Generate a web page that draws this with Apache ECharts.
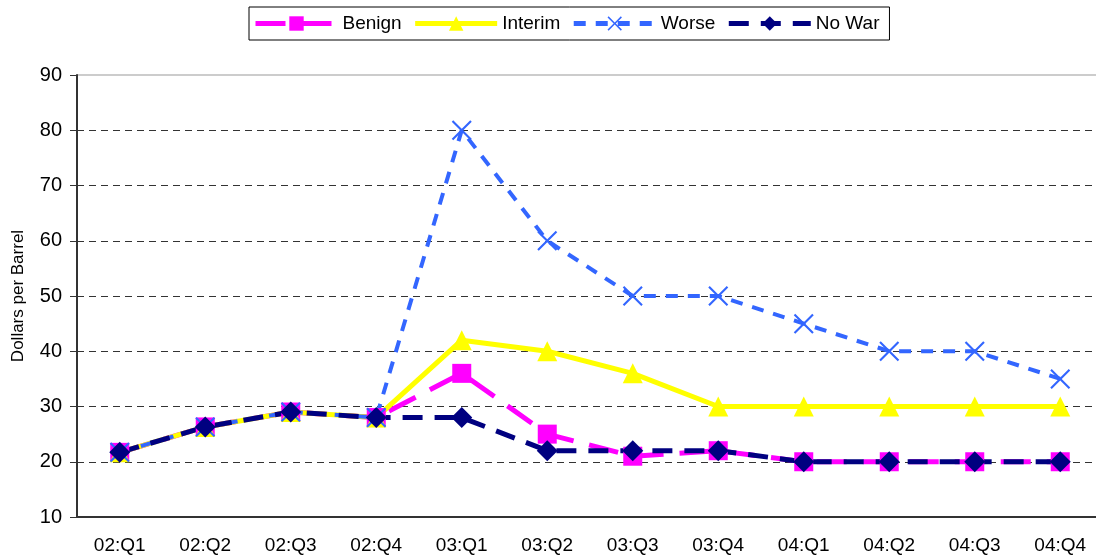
<!DOCTYPE html>
<html>
<head>
<meta charset="utf-8">
<script src="https://cdn.jsdelivr.net/npm/echarts@6/dist/echarts.min.js"></script>
<style>
  html, body { margin: 0; padding: 0; background: #fff; }
  #chartMain { width: 1096px; height: 557px; }
</style>
</head>
<body>
<div id="chartMain"></div>
<script>
var quarters = ['02:Q1', '02:Q2', '02:Q3', '02:Q4', '03:Q1', '03:Q2', '03:Q3', '03:Q4', '04:Q1', '04:Q2', '04:Q3', '04:Q4'];
var benign  = [21.7, 26.3, 29, 28, 36, 25, 21, 22, 20, 20, 20, 20];
var interim = [21.7, 26.3, 29, 28, 42, 40, 36, 30, 30, 30, 30, 30];
var worse   = [21.7, 26.3, 29, 28, 80, 60, 50, 50, 45, 40, 40, 35];
var noWar   = [21.7, 26.3, 29, 28, 28, 22, 22, 22, 20, 20, 20, 20];

var fontName = 'Arial, "Liberation Sans", sans-serif';
// X marker drawn as a filled outline
var crossPath = 'path://M0,1.5L1.5,0L10,8.5L18.5,0L20,1.5L11.5,10L20,18.5L18.5,20L10,11.5L1.5,20L0,18.5L8.5,10Z';

var chartMain = echarts.init(document.getElementById('chartMain'));
var option = {
    animation: false,
    backgroundColor: '#fff',
    textStyle: { fontFamily: fontName },
    legend: {
        left: 249,
        top: 7,
        padding: [7, 10, 7, 4],
        borderColor: '#000',
        borderWidth: 1,
        itemWidth: 82,
        itemHeight: 18,
        itemGap: 11,
        lineStyle: { width: 5 },
        textStyle: { fontSize: 19, color: '#000', fontFamily: fontName },
        data: ['Benign', 'Interim', 'Worse', 'No War']
    },
    grid: {
        left: 77,
        right: -7,
        top: 75,
        bottom: 40,
        outerBoundsMode: 'none',
        containLabel: false,
        show: true,
        borderColor: '#999',
        borderWidth: 1
    },
    xAxis: [{
        type: 'category',
        boundaryGap: true,
        data: quarters,
        axisLine: { lineStyle: { color: '#333', width: 2 } },
        axisTick: { length: 7, lineStyle: { color: '#333', width: 1 } },
        axisLabel: { fontSize: 19, color: '#000', margin: 19, fontFamily: fontName }
    }],
    yAxis: [{
        type: 'value',
        min: 10,
        max: 90,
        interval: 10,
        name: 'Dollars per Barrel',
        nameLocation: 'middle',
        nameGap: 50,
        nameMoveOverlap: false,
        nameTextStyle: { fontSize: 17, color: '#000', fontFamily: fontName },
        axisLine: { show: true, lineStyle: { color: '#333', width: 2 } },
        axisTick: { show: true, length: 7, lineStyle: { color: '#333' } },
        axisLabel: { fontSize: 20, color: '#000', margin: 15, fontFamily: fontName },
        splitLine: {
            lineStyle: {
                color: ['transparent', '#333', '#333', '#333', '#333', '#333', '#333', '#333', 'transparent'],
                type: [7, 5],
                width: 1
            }
        }
    }],
    series: [{
            name: 'Benign',
            type: 'line',
            data: benign,
            symbol: 'rect',
            symbolSize: 19,
            itemStyle: { color: '#ff00ff' },
            lineStyle: { color: '#ff00ff', width: 5, type: [30, 16] }
        },
        {
            name: 'Interim',
            type: 'line',
            data: interim,
            symbol: 'triangle',
            symbolSize: 20,
            itemStyle: { color: '#ffff00' },
            lineStyle: { color: '#ffff00', width: 5 }
        },
        {
            name: 'Worse',
            type: 'line',
            data: worse,
            symbol: crossPath,
            symbolSize: 20,
            itemStyle: { color: '#3366ff' },
            lineStyle: { color: '#3366ff', width: 4, type: [12, 10] }
        },
        {
            name: 'No War',
            type: 'line',
            data: noWar,
            symbol: 'diamond',
            symbolSize: 21,
            itemStyle: { color: '#000080' },
            lineStyle: { color: '#000080', width: 5, type: [20, 12] }
        }
    ]
};
chartMain.setOption(option);
</script>
</body>
</html>
